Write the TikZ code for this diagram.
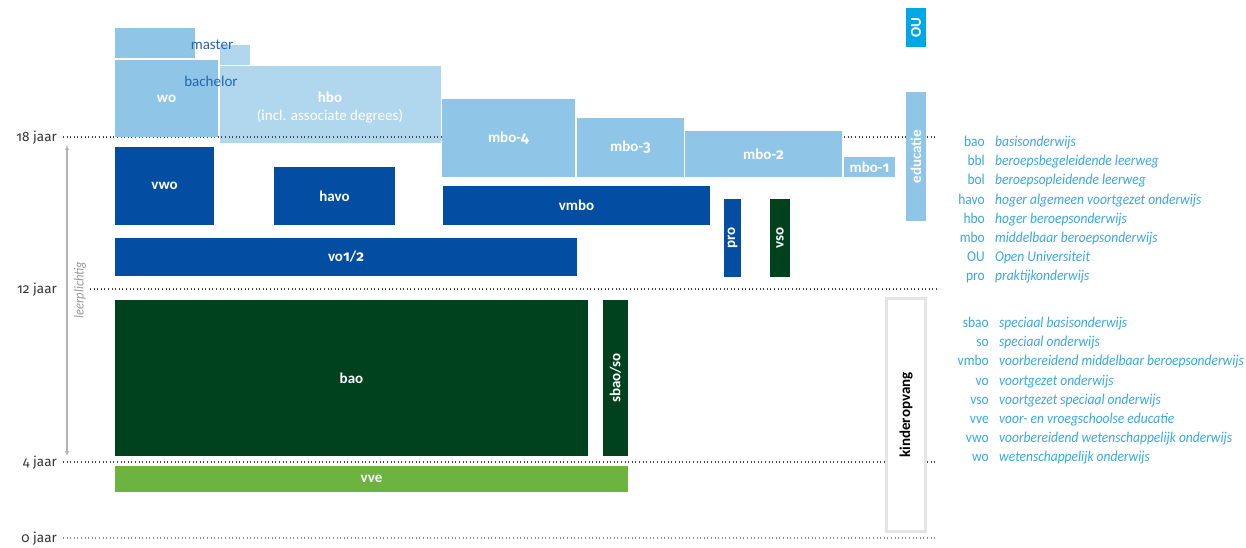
\documentclass[tikz,border=0pt]{standalone}
\usepackage{fontspec}
\setmainfont{Carlito}
\newfontfamily\legfont{Carlito}[FakeStretch=0.9]
\newfontfamily\oldnum{Fira Sans}[Numbers=OldStyle]
\usetikzlibrary{arrows.meta}
\definecolor{lblue}{HTML}{8FC6E8}
\definecolor{hblue}{HTML}{B1D7EF}
\definecolor{dblue}{HTML}{034EA2}
\definecolor{dgreen}{HTML}{00411E}
\definecolor{lgreen}{HTML}{6DB33F}
\definecolor{cyanou}{HTML}{00A7E7}
\definecolor{legc}{HTML}{38A8E0}
\definecolor{txtblue}{HTML}{2464AE}
\definecolor{kgrey}{HTML}{E5E5E5}
\definecolor{axisc}{HTML}{333333}
\definecolor{dotc}{HTML}{444444}
\definecolor{dotp}{HTML}{8C84B4}
\begin{document}
\begin{tikzpicture}[x=1pt,y=-1pt,
  box/.style={anchor=north west, inner sep=0pt, outer sep=0pt, draw=none, text=white,
    font=\fontsize{15}{17}\selectfont\bfseries, align=center},
  vlab/.style={rotate=90, inner sep=0pt, text=white, font=\fontsize{15}{17}\selectfont\bfseries},
  agelab/.style={anchor=base east, inner sep=0pt, text=axisc, font=\oldnum\fontsize{13.5}{16}\selectfont},
  ageline/.style={draw=dotc, line width=1.1pt, dash pattern=on 1pt off 2.6pt},
  legab/.style={anchor=base east, inner sep=0pt, text=legc, font=\legfont\fontsize{15}{17}\selectfont},
  legd/.style={anchor=base west, inner sep=0pt, text=legc, font=\legfont\fontsize{15}{17}\selectfont\itshape},
  deg/.style={inner sep=0pt, text=txtblue, font=\fontsize{15}{17}\selectfont}]
\useasboundingbox (0,0) rectangle (1246,548);

% hbo box (behind dotted line)
\node[box, fill=hblue, minimum width=221pt, minimum height=77pt] (hbo) at (220,66) {};
\node[inner sep=0pt, text=white, align=center, font=\fontsize{15}{17}\selectfont] (hbotxt) at (330,108)
  {{\bfseries hbo}\\[1pt](incl. associate degrees)};

% dotted age lines
\coordinate (l18a) at (63,137); \coordinate (l18b) at (937,137);
\coordinate (l12a) at (90,289); \coordinate (l12b) at (937,289);
\coordinate (l4a) at (63,462);  \coordinate (l4b) at (937,462);
\coordinate (l0a) at (63,538);  \coordinate (l0b) at (937,538);
\draw[ageline] (l18a) -- (l18b);
\draw[ageline] (l12a) -- (l12b);
\draw[ageline] (l4a) -- (l4b);
\draw[ageline, draw=dotp] (l0a) -- (l0b);

\node[agelab] (a18) at (57,141.5) {18 jaar};
\node[agelab] (a12) at (57,293.5) {12 jaar};
\node[agelab] (a4) at (57,466.5) {4 jaar};
\node[agelab] (a0) at (57,542.5) {0 jaar};

% leerplichtig
\coordinate (lpt) at (67,145);
\coordinate (lpb) at (67,456);
\draw[draw=black!30, line width=1.3pt, {Latex[length=5pt,width=4.5pt]}-{Latex[length=5pt,width=4.5pt]}] (lpt) -- (lpb);
\node[rotate=90, inner sep=0pt, text=black!40, font=\legfont\fontsize{14}{16}\selectfont\itshape] (lplab) at (80,290) {leerplichtig};

% higher education
\node[box, fill=lblue, minimum width=80pt, minimum height=30pt] (master) at (115,28) {};
\node[box, fill=hblue, minimum width=30pt, minimum height=20pt] (mext) at (220,45) {};
\node[box, fill=lblue, minimum width=103pt, minimum height=77pt] (wo) at (115,60) {wo};
\node[deg] (mastertxt) at (212,45) {master};
\node[deg] (bachtxt) at (211,81) {bachelor};

\node[box, fill=lblue, minimum width=133pt, minimum height=78pt] (mbo4) at (442,99) {mbo-{\oldnum 4}};
\node[box, fill=lblue, minimum width=107pt, minimum height=59pt] (mbo3) at (577,118) {mbo-{\oldnum 3}};
\node[box, fill=lblue, minimum width=157pt, minimum height=46pt] (mbo2) at (685,131) {mbo-{\oldnum 2}};
\node[box, fill=lblue, minimum width=51pt, minimum height=20pt] (mbo1) at (844,157) {mbo-{\oldnum 1}};

\node[box, fill=lblue, minimum width=20pt, minimum height=129pt] (edu) at (906,92) {};
\node[vlab] (edutxt) at (edu.center) {educatie};
\node[box, fill=cyanou, minimum width=20pt, minimum height=39pt] (ou) at (906,8) {};
\node[vlab] (outxt) at (ou.center) {OU};

% secondary
\node[box, fill=dblue, minimum width=99pt, minimum height=78pt] (vwo) at (115,147) {vwo};
\node[box, fill=dblue, minimum width=121pt, minimum height=58pt] (havo) at (274,167) {havo};
\node[box, fill=dblue, minimum width=267pt, minimum height=39pt] (vmbo) at (443,186) {vmbo};
\node[box, fill=dblue, minimum width=462pt, minimum height=38pt] (vo12) at (115,238) {vo{\oldnum 1}/{\oldnum 2}};
\node[box, fill=dblue, minimum width=17pt, minimum height=78pt] (pro) at (724,199) {};
\node[vlab] (protxt) at (pro.center) {pro};
\node[box, fill=dgreen, minimum width=20pt, minimum height=78pt] (vso) at (770,199) {};
\node[vlab] (vsotxt) at (vso.center) {vso};

% primary
\node[box, fill=dgreen, minimum width=473pt, minimum height=156pt] (bao) at (115,300) {bao};
\node[box, fill=dgreen, minimum width=25pt, minimum height=156pt] (sbao) at (603,300) {};
\node[vlab] (sbaotxt) at (sbao.center) {sbao/so};
\node[box, fill=lgreen, minimum width=513pt, minimum height=26pt] (vve) at (115,466) {vve};

% kinderopvang
\node[box, fill=white, draw=kgrey, line width=3pt, minimum width=39pt, minimum height=233pt] (kop) at (886.5,298.5) {};
\node[vlab, text=black] (koptxt) at (kop.center) {kinderopvang};

% legend
\foreach \a/\d [count=\i] in {bao/basisonderwijs, bbl/beroepsbegeleidende leerweg,
  bol/beroepsopleidende leerweg, havo/hoger algemeen voortgezet onderwijs,
  hbo/hoger beroepsonderwijs, mbo/middelbaar beroepsonderwijs,
  OU/Open Universiteit, pro/praktijkonderwijs}{
  \node[legab] (la\i) at (985,{146.5+19.2*(\i-1)}) {\a};
  \node[legd] (ld\i) at (995,{146.5+19.2*(\i-1)}) {\d};
}
\foreach \a/\d [count=\i] in {sbao/speciaal basisonderwijs, so/speciaal onderwijs,
  vmbo/voorbereidend middelbaar beroepsonderwijs, vo/voortgezet onderwijs,
  vso/voortgezet speciaal onderwijs, vve/voor- en vroegschoolse educatie,
  vwo/voorbereidend wetenschappelijk onderwijs, wo/wetenschappelijk onderwijs}{
  \node[legab] (lb\i) at (989,{327.5+19.2*(\i-1)}) {\a};
  \node[legd] (le\i) at (999,{327.5+19.2*(\i-1)}) {\d};
}
\end{tikzpicture}
\end{document}
